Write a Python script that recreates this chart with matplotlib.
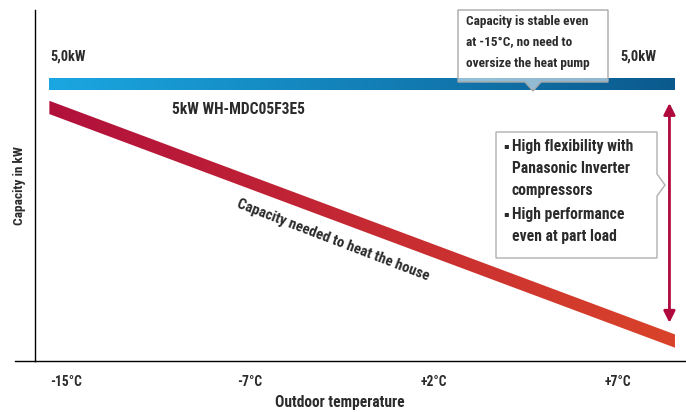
import matplotlib
matplotlib.use("Agg")
import matplotlib.pyplot as plt
import numpy as np
from matplotlib import font_manager as fm
from matplotlib.colors import LinearSegmentedColormap
from matplotlib.patches import Polygon
from matplotlib.lines import Line2D

# narrowest bold sans that is installed
_names = {f.name for f in fm.fontManager.ttflist}
FONT = next(n for n in ['Roboto Condensed', 'Liberation Sans Narrow',
                        'Open Sans Condensed', 'Roboto', 'DejaVu Sans'] if n in _names)
plt.rcParams['font.family'] = [FONT, 'DejaVu Sans']
plt.rcParams['font.weight'] = 'bold'
plt.rcParams['axes.labelweight'] = 'bold'

# data (schematic)
temps = ['-15°C', '-7°C', '+2°C', '+7°C']
temp_pos = [0, 1, 2, 3]
line_x = [-0.09, 3.31]            # start / end of both lines
unit_capacity = [5.0, 5.0]        # 5kW WH-MDC05F3E5, flat
house_demand = [4.58, 0.36]       # capacity needed to heat the house
arrow_x = 3.28
arrow_span = [4.66, 0.69]

TXT = '#2b2b2b'
W, H = 686, 412

fig = plt.figure(figsize=(W / 100, H / 100), dpi=100)
ax = fig.add_axes([35 / W, 51 / H, 651 / W, 351 / H])


def px(x, y):
    # pixel (from top-left) -> figure fraction
    return x / W, 1 - y / H


def fit(t, target_w):
    # scale the font so the unrotated text is target_w pixels wide
    r = fig.canvas.get_renderer()
    rot = t.get_rotation()
    t.set_rotation(0)
    w = t.get_window_extent(r).width
    t.set_fontsize(t.get_fontsize() * target_w / w)
    t.set_rotation(rot)
    return t


def label(x, y, s, width, **kw):
    kw.setdefault('va', 'center')
    t = fig.text(*px(x, y), s, fontsize=10, color=TXT, **kw)
    return fit(t, width)


def gradient_band(xs, ys, half, c0, c1):
    cmap = LinearSegmentedColormap.from_list('g', [c0, c1])
    verts = [(xs[0], ys[0] + half), (xs[1], ys[1] + half),
             (xs[1], ys[1] - half), (xs[0], ys[0] - half)]
    poly = Polygon(verts, closed=True, facecolor='none', edgecolor='none')
    ax.add_patch(poly)
    grad = np.linspace(0, 1, 256).reshape(1, -1)
    im = ax.imshow(grad, cmap=cmap, aspect='auto', interpolation='bicubic',
                   extent=[xs[0], xs[1], min(ys) - half, max(ys) + half])
    im.set_clip_path(poly)


gradient_band(line_x, unit_capacity, 0.11, '#1ba7e1', '#0b5a8e')
gradient_band(line_x, house_demand, 0.12, '#b1103c', '#d9432a')

ax.annotate('', xy=(arrow_x, arrow_span[0]), xytext=(arrow_x, arrow_span[1]),
            arrowprops=dict(arrowstyle='<|-|>', color='#b0093d', lw=2,
                            mutation_scale=17, shrinkA=0, shrinkB=0))

ax.set_xlim(-0.168, 3.37)
ax.set_ylim(0, 6.34)
ax.set_xticks(temp_pos)
ax.set_xticklabels(temps, color=TXT)
ax.tick_params(axis='x', length=0, pad=10)
ax.set_yticks([])
for s in ['top', 'right']:
    ax.spines[s].set_visible(False)
ax.spines['left'].set_linewidth(1)
ax.spines['bottom'].set_linewidth(1)
ax.set_xlabel('Outdoor temperature', color=TXT, va='center')
ax.xaxis.set_label_coords((340 - 35) / 651, (361 - 402) / 351)
# x axis extends a bit left of the y axis
fig.add_artist(Line2D([15 / W, 35 / W], [51 / H, 51 / H], color='black', lw=1))

fig.canvas.draw()
fs = fit(ax.get_xticklabels()[0], 32).get_fontsize()
ax.tick_params(axis='x', labelsize=fs)
fit(ax.xaxis.label, 130)

yl = label(20, 186, 'Capacity in kW', 79, ha='center')
yl.set_rotation(90)

label(50, 57, '5,0kW', 35)
label(620, 57, '5,0kW', 36)
label(172, 110, '5kW WH-MDC05F3E5', 133)
label(333, 240, 'Capacity needed to heat the house', 205,
      ha='center', rotation=-21, rotation_mode='anchor')

# callout boxes
top_box = [(458, 10), (608, 10), (608, 82), (541, 82), (533, 91), (525, 82), (458, 82)]
fig.add_artist(Polygon([px(*p) for p in top_box], closed=True, transform=fig.transFigure,
                       facecolor=(1, 1, 1, 0.55), edgecolor='#a8a8a8', lw=1))
top_lines = ['Capacity is stable even', 'at -15°C, no need to', 'oversize the heat pump']
t0 = label(466, 21, top_lines[0], 123)
for y, s in zip([42, 63], top_lines[1:]):
    fig.text(*px(466, y), s, fontsize=t0.get_fontsize(), color=TXT, va='center')

side_box = [(496, 132), (657, 132), (657, 174), (665, 185), (657, 196), (657, 258), (496, 258)]
fig.add_artist(Polygon([px(*p) for p in side_box], closed=True, transform=fig.transFigure,
                       facecolor='white', edgecolor='#b0b0b0', lw=1))
side_lines = ['High flexibility with', 'Panasonic Inverter', 'compressors',
              'High performance', 'even at part load']
side_y = [146, 168, 190, 214, 237]
t1 = label(512, side_y[0], side_lines[0], 122)
for y, s in zip(side_y[1:], side_lines[1:]):
    fig.text(*px(512, y), s, fontsize=t1.get_fontsize(), color=TXT, va='center')
for y in [side_y[0], side_y[3]]:
    fig.text(*px(503, y), '▪', fontsize=6, color=TXT, va='center',
             family='DejaVu Sans')

fig.savefig('out.png', dpi=100)
